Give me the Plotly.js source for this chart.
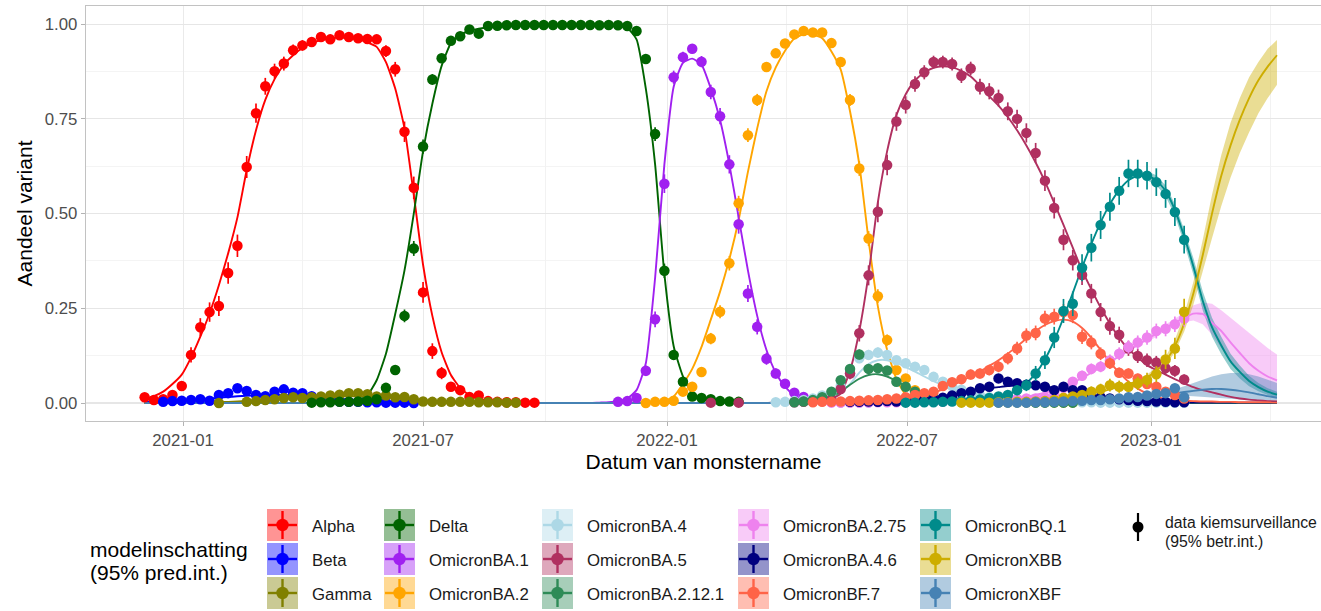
<!DOCTYPE html>
<html>
<head>
<meta charset="utf-8">
<script src="https://cdn.plot.ly/plotly-3.0.1.min.js"></script>
<style>
html,body{margin:0;padding:0;background:#ffffff;}
#chart{width:1321px;height:611px;}
</style>
</head>
<body>
<div id="chart"></div>
<script>
// ---------- weekly sampling grid (Thursdays) ----------
const firstWeek = '2020-12-03';
const nFitWeeks = 123;          // model curve: 2020-12-03 .. 2023-04-06
const ribbonStart = 108;        // prediction intervals drawn from week 108

// ---------- axis ticks ----------
const xMinorGrid = ['2021-04-01','2021-10-01','2022-04-01','2022-10-01','2023-04-01'];
const yMinorGrid = [0.125,0.375,0.625,0.875];

// ---------- variants ----------
const variantNames = ['Alpha','Beta','Gamma','Delta','OmicronBA.1','OmicronBA.2','OmicronBA.4','OmicronBA.5',
  'OmicronBA.2.12.1','OmicronBA.2.75','OmicronBA.4.6','OmicronBF.7','OmicronBQ.1','OmicronXBB','OmicronXBF'];
const variantColors = ['#FF0000','#0000FF','#808000','#006400','#A020F0','#FFA500','#ADD8E6','#B03060',
  '#2E8B57','#EE82EE','#000080','#FF6347','#008B8B','#CDAD00','#4682B4'];
const obsStart = [0,2,8,18,51,54,68,61,70,74,76,72,82,88,92];
const fitStart = [0,0,8,18,48,52,68,66,70,74,76,70,82,88,92];
const errHalfAtHalf = [0.03,0.012,0.01,0.02,0.025,0.02,0.02,0.028,0.02,0.025,0.012,0.025,0.037,0.04,0.015];

// ---------- observed shares (data kiemsurveillance) ----------
const obsAlpha = [0.015,0.008,0.01,0.021,0.045,0.127,0.2,0.24,0.256,0.343,0.415,0.623,0.765,0.836,0.876,0.896,0.931,0.944,0.953,0.966,0.96,0.971,0.966,0.963,0.961,0.96,0.929,0.881,0.716,0.568,0.292,0.137,0.079,0.043,0.034,0.016,0.02,0.005,0.003,0.002,0.002,0.001,0.001];
const obsBeta = [0.003,0.005,0.006,0.008,0.01,0.006,0.021,0.026,0.039,0.032,0.021,0.018,0.03,0.036,0.027,0.026,0.018,0.01,0.006,0.004,0.003,0.003,0.002,0.002,0.001,0.001,0.001,0];
const obsGamma = [0,null,null,0.003,0.005,0.008,0.01,0.013,0.015,0.013,0.015,0.017,0.02,0.022,0.026,0.026,0.023,0.017,0.02,0.015,0.016,0.01,0.004,0.003,0.003,0.003,0.003,0.003,0.002,0.002,0.002,0.001,0.001];
const obsDelta = [0.001,0.002,0.002,0.003,0.003,0.004,0.006,0.01,0.04,0.087,0.23,0.408,0.677,0.854,0.91,0.956,0.968,0.986,0.975,0.995,0.996,0.997,0.998,0.998,0.998,0.998,0.998,0.998,0.998,0.998,0.998,0.997,0.998,0.997,0.995,0.982,0.908,0.71,0.349,0.127,0.056,0.017,0.013,0.01,0.005,0.004,0.003];
const obsBA1 = [0.003,0.005,0.013,0.085,0.221,0.579,0.86,0.913,0.935,0.901,0.821,0.757,0.63,0.472,0.289,0.201,0.117,0.078,0.051,0.027,0.016,0.008,0.005,0.003,0.002,0.002,0.002,0.002];
const obsBA2 = [0,0.003,0.003,0.006,0.03,0.043,0.082,0.17,0.241,0.369,0.527,0.707,0.8,0.887,0.923,0.949,0.973,0.982,0.978,0.978,0.95,0.9,0.8,0.619,0.434,0.282,0.166,0.087,0.065,0.034,0.02,0.012,0.008,0.006,0.005,0.004,0.004,0.003,0.003,0.003,0.002,0.002,0.002,0.002,0.002,0.001,0.001];
const obsBA4 = [0.002,0.003,0.005,0.008,0.012,0.02,0.028,0.045,0.078,0.118,0.127,0.133,0.127,0.113,0.105,0.096,0.087,0.069,0.056,0.045,0.035,0.028,0.02,0.015,0.012,0.009,0.007,0.005,0.004,0.003,0.003,0.002,0.002,0.002,0.002,0.001,0.001,0.001,0.001,0.001,0.001,0.001,0.001,0.001,0.001];
const obsBA5 = [0.001,null,null,0.001,null,null,null,null,null,0.002,0.003,0.004,0.005,0.01,0.037,0.078,0.184,0.337,0.505,0.628,0.743,0.787,0.842,0.873,0.9,0.9,0.895,0.864,0.883,0.835,0.823,0.805,0.77,0.75,0.713,0.66,0.587,0.515,0.431,0.377,0.338,0.289,0.24,0.203,0.18,0.144,0.124,0.113,0.107,0.092,0.085,0.062];
const obsBA2121 = [0.002,0.004,0.008,0.015,0.03,0.06,0.09,0.128,0.09,0.092,0.086,0.056,0.043,0.03,0.02,0.014,0.01,0.007,0.005,0.004,0.003,0.003,0.002,0.002,0.002,0.002,0.001,0.001,0.001,0.001,0.001];
const obsBA275 = [0.001,0.001,0.001,0.001,0.002,0.002,0.002,0.002,0.003,0.003,0.003,0.004,0.004,0.005,0.005,0.006,0.007,0.008,0.009,0.01,0.011,0.012,0.012,0.015,0.025,0.04,0.056,0.072,0.09,0.096,0.112,0.13,0.148,0.16,0.173,0.19,0.196,0.208,0.223];
const obsBA46 = [0.003,0.003,0.004,0.003,0.005,0.004,0.005,0.006,0.008,0.01,0.014,0.02,0.026,0.03,0.039,0.043,0.065,0.056,0.052,0.048,0.047,0.043,0.034,0.043,0.034,0.034,0.017,0.015,0.012,0.01,0.008,0.006,0.005,0.004,0.003,0.002,0.002];
const obsBF7 = [0.002,0.003,0.003,0.004,0.005,0.006,0.007,0.008,0.01,0.012,0.015,0.021,0.026,0.03,0.045,0.055,0.063,0.075,0.078,0.087,0.096,0.118,0.144,0.178,0.185,0.223,0.228,0.24,0.232,0.175,0.16,0.13,0.105,0.08,0.078,0.065,0.05,0.043,0.03,0.021,0.012];
const obsBQ1 = [0.001,0.001,0.002,0.002,0.003,0.004,0.005,0.007,0.009,0.013,0.017,0.021,0.034,0.047,0.078,0.113,0.173,0.243,0.262,0.357,0.41,0.47,0.518,0.56,0.606,0.606,0.6,0.583,0.552,0.504,0.431];
const obsXBB = [0.001,0.001,0.001,0.001,0.002,0.002,0.003,0.003,0.004,0.005,0.008,0.014,0.017,0.021,0.03,0.036,0.047,0.043,0.043,0.052,0.061,0.076,0.115,0.144,0.241];
const obsXBF = [0.001,0.001,0.001,0.001,0.002,0.002,0.003,0.004,0.005,0.006,0.008,0.008,0.01,0.012,0.015,0.016,0.02,0.024,0.026,0.039,0.015];

// ---------- model estimates (modelinschatting) ----------
const fitAlpha = [0.01,0.018,0.03,0.05,0.075,0.12,0.175,0.237,0.311,0.395,0.49,0.615,0.72,0.8,0.855,0.893,0.918,0.937,0.95,0.958,0.963,0.965,0.964,0.96,0.952,0.94,0.9,0.83,0.725,0.55,0.365,0.23,0.134,0.074,0.04,0.021,0.011,0.006,0.003,0.002,0.001];
const fitBeta = [0.003,0.004,0.005,0.006,0.007,0.008,0.01,0.012,0.014,0.016,0.018,0.019,0.02,0.021,0.021,0.021,0.02,0.019,0.017,0.015,0.013,0.011,0.009,0.007,0.006,0.005,0.004,0.003,0.002,0.002,0.001,0.001,0];
const fitGamma = [0.002,0.003,0.004,0.005,0.006,0.008,0.009,0.011,0.012,0.014,0.015,0.016,0.017,0.018,0.018,0.018,0.017,0.016,0.015,0.013,0.011,0.009,0.007,0.005,0.004,0.003,0.002,0.002,0.001,0.001,0.001,0,0,0,0];
const fitDelta = [0,0.001,0.001,0.002,0.004,0.008,0.02,0.06,0.13,0.235,0.35,0.5,0.665,0.79,0.89,0.95,0.972,0.982,0.988,0.992,0.994,0.995,0.996,0.997,0.997,0.997,0.997,0.997,0.997,0.997,0.997,0.997,0.996,0.994,0.99,0.96,0.83,0.63,0.34,0.15,0.07,0.025,0.01,0.004,0.002,0.001];
const fitBA1 = [0,0.001,0.002,0.005,0.012,0.034,0.105,0.33,0.63,0.835,0.898,0.909,0.893,0.83,0.747,0.63,0.49,0.35,0.23,0.14,0.08,0.043,0.02,0.01,0.005,0.003,0.002,0.001,0,0,0];
const fitBA2 = [0,0.001,0.002,0.003,0.005,0.017,0.05,0.09,0.148,0.22,0.294,0.38,0.483,0.61,0.725,0.823,0.886,0.93,0.962,0.973,0.972,0.963,0.928,0.88,0.77,0.63,0.43,0.255,0.14,0.063,0.022,0.008,0.003,0.001];
const fitBA4 = [0.001,0.002,0.003,0.004,0.006,0.01,0.016,0.028,0.05,0.08,0.103,0.113,0.113,0.106,0.095,0.083,0.07,0.058,0.047,0.037,0.029,0.022,0.017,0.013,0.01,0.008,0.006,0.005,0.004,0.003,0.002,0.002,0.001];
const fitBA5 = [0,0,0.001,0.001,0.001,0.002,0.002,0.004,0.012,0.025,0.085,0.19,0.34,0.53,0.665,0.76,0.815,0.852,0.872,0.885,0.889,0.886,0.877,0.862,0.838,0.81,0.785,0.755,0.72,0.68,0.635,0.585,0.528,0.47,0.41,0.35,0.3,0.252,0.21,0.172,0.142,0.12,0.1,0.087,0.075,0.063,0.052,0.042,0.034,0.028,0.022,0.016,0.012,0.009,0.007,0.005,0.004];
const fitBA2121 = [0.001,0.002,0.004,0.008,0.016,0.03,0.048,0.064,0.074,0.076,0.07,0.058,0.045,0.033,0.023,0.015,0.01,0.006,0.004,0.002,0.001];
const fitBA275 = [0.001,0.001,0.001,0.002,0.002,0.002,0.003,0.003,0.003,0.004,0.004,0.005,0.005,0.006,0.006,0.007,0.008,0.009,0.01,0.012,0.014,0.017,0.021,0.027,0.034,0.043,0.054,0.066,0.08,0.094,0.108,0.123,0.138,0.153,0.168,0.183,0.198,0.212,0.225,0.236,0.235,0.212,0.19,0.16,0.132,0.105,0.085,0.07,0.06];
const fitBA46 = [0.002,0.002,0.003,0.003,0.004,0.005,0.006,0.008,0.01,0.013,0.017,0.021,0.026,0.031,0.035,0.039,0.042,0.045,0.046,0.046,0.045,0.043,0.04,0.036,0.031,0.026,0.021,0.017,0.013,0.01,0.008,0.006,0.004,0.003,0.002,0.002,0.001,0.001,0.001,0.001,0.001,0.001,0.001,0.001,0.001,0.001,0.001];
const fitBF7 = [0.002,0.002,0.003,0.003,0.004,0.004,0.005,0.005,0.006,0.007,0.008,0.01,0.012,0.015,0.02,0.027,0.036,0.046,0.058,0.07,0.083,0.098,0.113,0.13,0.15,0.17,0.19,0.206,0.216,0.22,0.215,0.198,0.172,0.14,0.108,0.08,0.056,0.038,0.025,0.016,0.011,0.008,0.006,0.005,0.004,0.004,0.003,0.003,0.002,0.002,0.002,0.002,0.001];
const fitBQ1 = [0.001,0.001,0.002,0.002,0.003,0.004,0.005,0.006,0.007,0.009,0.014,0.022,0.034,0.052,0.078,0.115,0.165,0.225,0.29,0.358,0.42,0.477,0.525,0.562,0.588,0.6,0.6,0.588,0.56,0.51,0.44,0.36,0.27,0.2,0.152,0.11,0.082,0.058,0.042,0.03,0.022];
const fitXBB = [0.001,0.001,0.001,0.002,0.002,0.003,0.004,0.005,0.006,0.008,0.01,0.013,0.016,0.02,0.025,0.03,0.036,0.043,0.05,0.058,0.068,0.085,0.11,0.15,0.21,0.29,0.39,0.5,0.6,0.68,0.748,0.805,0.852,0.888,0.918];
const fitXBF = [0.001,0.001,0.001,0.002,0.002,0.003,0.003,0.004,0.005,0.006,0.007,0.008,0.009,0.011,0.013,0.015,0.017,0.02,0.023,0.026,0.029,0.032,0.035,0.037,0.037,0.035,0.032,0.028,0.023,0.018,0.014];

// ---------- 95% prediction intervals (from week 108) ----------
const loBA275 = [0.16,0.175,0.19,0.203,0.213,0.218,0.208,0.18,0.145,0.11,0.08,0.055,0.038,0.026,0.018];
const hiBA275 = [0.176,0.191,0.206,0.222,0.238,0.258,0.265,0.262,0.245,0.225,0.205,0.185,0.165,0.145,0.128];
const loBQ1 = [0.588,0.575,0.546,0.494,0.422,0.338,0.245,0.175,0.129,0.09,0.065,0.044,0.031,0.021,0.014];
const hiBQ1 = [0.612,0.601,0.574,0.526,0.458,0.382,0.295,0.225,0.175,0.13,0.099,0.072,0.053,0.039,0.03];
const loXBB = [0.062,0.077,0.099,0.134,0.188,0.26,0.345,0.435,0.52,0.595,0.66,0.715,0.765,0.805,0.84];
const hiXBB = [0.075,0.094,0.122,0.167,0.233,0.32,0.43,0.55,0.655,0.74,0.805,0.86,0.9,0.935,0.958];
const loXBF = [0.013,0.015,0.017,0.018,0.019,0.018,0.017,0.015,0.013,0.011,0.009,0.007,0.005,0.004,0.003];
const hiXBF = [0.021,0.026,0.031,0.037,0.044,0.053,0.062,0.07,0.076,0.079,0.079,0.076,0.07,0.062,0.053];

const obsValues = [obsAlpha,obsBeta,obsGamma,obsDelta,obsBA1,obsBA2,obsBA4,obsBA5,obsBA2121,obsBA275,obsBA46,obsBF7,obsBQ1,obsXBB,obsXBF];
const fitValues = [fitAlpha,fitBeta,fitGamma,fitDelta,fitBA1,fitBA2,fitBA4,fitBA5,fitBA2121,fitBA275,fitBA46,fitBF7,fitBQ1,fitXBB,fitXBF];
const ribbons = {'OmicronBA.2.75':[loBA275,hiBA275],'OmicronBQ.1':[loBQ1,hiBQ1],'OmicronXBB':[loXBB,hiXBB],'OmicronXBF':[loXBF,hiXBF]};

// ---------- helpers ----------
const t0 = Date.parse(firstWeek + 'T00:00:00Z');
function weekDate(k){ return new Date(t0 + k*7*86400000).toISOString().slice(0,10); }
function rgba(hex,a){ const n=parseInt(hex.slice(1),16); return 'rgba('+((n>>16)&255)+','+((n>>8)&255)+','+(n&255)+','+a+')'; }
const FONT = 'Liberation Sans, Arial, Helvetica, sans-serif';

const traces = [];
// ribbons
variantNames.forEach((name,i)=>{
  const r = ribbons[name]; if(!r) return;
  const xs=[], ys=[];
  for(let j=0;j<r[1].length;j++){ xs.push(weekDate(ribbonStart+j)); ys.push(r[1][j]); }
  for(let j=r[0].length-1;j>=0;j--){ xs.push(weekDate(ribbonStart+j)); ys.push(r[0][j]); }
  traces.push({type:'scatter',mode:'lines',x:xs,y:ys,fill:'toself',fillcolor:rgba(variantColors[i],0.42),
    line:{width:0,color:rgba(variantColors[i],0)},hoverinfo:'skip',showlegend:false});
});
// model lines
variantNames.forEach((name,i)=>{
  const xs=[], ys=[];
  for(let k=0;k<nFitWeeks;k++){
    const j=k-fitStart[i];
    xs.push(weekDate(k));
    ys.push(j>=0 && j<fitValues[i].length ? fitValues[i][j] : 0);
  }
  traces.push({type:'scatter',mode:'lines',name:name,x:xs,y:ys,
    line:{color:variantColors[i],width:1.9,shape:'spline',smoothing:0.5},showlegend:false});
});
// observed points with 95% intervals
variantNames.forEach((name,i)=>{
  const xs=[], ys=[], up=[], dn=[];
  obsValues[i].forEach((v,j)=>{
    if(v===null) return;
    const e = errHalfAtHalf[i]*2*Math.sqrt(v*(1-v));
    xs.push(weekDate(obsStart[i]+j)); ys.push(v);
    up.push(Math.min(e,1-v)); dn.push(Math.min(e,v));
  });
  traces.push({type:'scatter',mode:'markers',name:name,x:xs,y:ys,
    marker:{color:variantColors[i],size:10.5,line:{width:0}},
    error_y:{type:'data',symmetric:false,array:up,arrayminus:dn,color:variantColors[i],thickness:1.7,width:0},
    showlegend:false});
});

// ---------- custom legend (pixel placement converted to paper coords) ----------
const PL=86, PR=1321, PT=6, PB=421;
function X(px){ return (px-PL)/(PR-PL); }
function Y(py){ return (PB-py)/(PB-PT); }
const keyLeft=[267,384,542,738,920], keyTop=[509,543,577], keyW=31, keyH=32, textGap=12;
const shapes=[], annotations=[];
variantNames.forEach((name,i)=>{
  const c=Math.floor(i/3), r=i%3;
  const x0=keyLeft[c], y0=keyTop[r], cx=x0+keyW/2, cy=y0+keyH/2;
  shapes.push({type:'rect',xref:'paper',yref:'paper',x0:X(x0),x1:X(x0+keyW),y0:Y(y0),y1:Y(y0+keyH),
    fillcolor:rgba(variantColors[i],0.42),line:{width:0}});
  shapes.push({type:'line',xref:'paper',yref:'paper',x0:X(x0+1),x1:X(x0+keyW-1),y0:Y(cy),y1:Y(cy),
    line:{color:variantColors[i],width:2.4}});
  shapes.push({type:'line',xref:'paper',yref:'paper',x0:X(cx),x1:X(cx),y0:Y(y0+2),y1:Y(y0+keyH-2),
    line:{color:variantColors[i],width:2.4}});
  shapes.push({type:'circle',xref:'paper',yref:'paper',xsizemode:'pixel',ysizemode:'pixel',
    xanchor:X(cx),yanchor:Y(cy),x0:-6.2,x1:6.2,y0:-6.2,y1:6.2,fillcolor:variantColors[i],line:{width:0}});
  annotations.push({xref:'paper',yref:'paper',x:X(x0+keyW+textGap),y:Y(cy+1),xanchor:'left',yanchor:'middle',
    text:name,showarrow:false,font:{family:FONT,size:16.8,color:'#1A1A1A'}});
});
// legend title
annotations.push({xref:'paper',yref:'paper',x:X(88),y:Y(549),xanchor:'left',yanchor:'middle',
  text:'modelinschatting',showarrow:false,font:{family:FONT,size:21,color:'#000'}});
annotations.push({xref:'paper',yref:'paper',x:X(88),y:Y(572),xanchor:'left',yanchor:'middle',
  text:'(95% pred.int.)',showarrow:false,font:{family:FONT,size:21,color:'#000'}});
// data legend
shapes.push({type:'line',xref:'paper',yref:'paper',x0:X(1138),x1:X(1138),y0:Y(513),y1:Y(541),line:{color:'#000',width:2.2}});
shapes.push({type:'circle',xref:'paper',yref:'paper',xsizemode:'pixel',ysizemode:'pixel',
  xanchor:X(1138),yanchor:Y(527),x0:-5.5,x1:5.5,y0:-5.5,y1:5.5,fillcolor:'#000',line:{width:0}});
annotations.push({xref:'paper',yref:'paper',x:X(1163),y:Y(522),xanchor:'left',yanchor:'middle',
  text:'data kiemsurveillance',showarrow:false,font:{family:FONT,size:15.8,color:'#1A1A1A'}});
annotations.push({xref:'paper',yref:'paper',x:X(1163),y:Y(541),xanchor:'left',yanchor:'middle',
  text:'(95% betr.int.)',showarrow:false,font:{family:FONT,size:15.8,color:'#1A1A1A'}});

const layout = {
  width:1321, height:611,
  margin:{l:PL,r:0,t:PT,b:611-PB,pad:0},
  paper_bgcolor:'#ffffff', plot_bgcolor:'#ffffff',
  showlegend:false,
  font:{family:FONT,color:'#000'},
  xaxis:{
    type:'date', range:['2020-10-19 19:00','2023-05-09 05:00'],
    tick0:'2021-01-01', dtick:'M6', tickformat:'%Y-%m',
    ticks:'outside', ticklen:4, tickwidth:1, tickcolor:'#B3B3B3',
    tickfont:{family:FONT,size:16.8,color:'#4D4D4D'},
    showgrid:true, gridcolor:'#EAEAEA', gridwidth:1,
    minor:{tickmode:'array', tickvals:xMinorGrid, showgrid:true, gridcolor:'#F2F2F2', gridwidth:1, ticks:''},
    showline:true, mirror:true, linecolor:'#C2C2C2', linewidth:1.3,
    zeroline:false, automargin:false,
    title:{text:'Datum van monstername', font:{family:FONT,size:21,color:'#000'}, standoff:4}
  },
  yaxis:{
    range:[-0.0475,1.048], tick0:0, dtick:0.25, tickformat:'.2f',
    ticks:'outside', ticklen:4, tickwidth:1, tickcolor:'#B3B3B3',
    tickfont:{family:FONT,size:16.8,color:'#4D4D4D'},
    showgrid:true, gridcolor:'#E6E6E6', gridwidth:1.1,
    minor:{tickmode:'array', tickvals:yMinorGrid, showgrid:true, gridcolor:'#F1F1F1', gridwidth:0.8, ticks:''},
    showline:true, mirror:true, linecolor:'#C2C2C2', linewidth:1.3,
    zeroline:false, automargin:false,
    title:{text:'Aandeel variant', font:{family:FONT,size:21,color:'#000'}, standoff:6}
  },
  shapes:shapes,
  annotations:annotations
};

Plotly.newPlot('chart', traces, layout, {staticPlot:true, displayModeBar:false});
</script>
</body>
</html>
